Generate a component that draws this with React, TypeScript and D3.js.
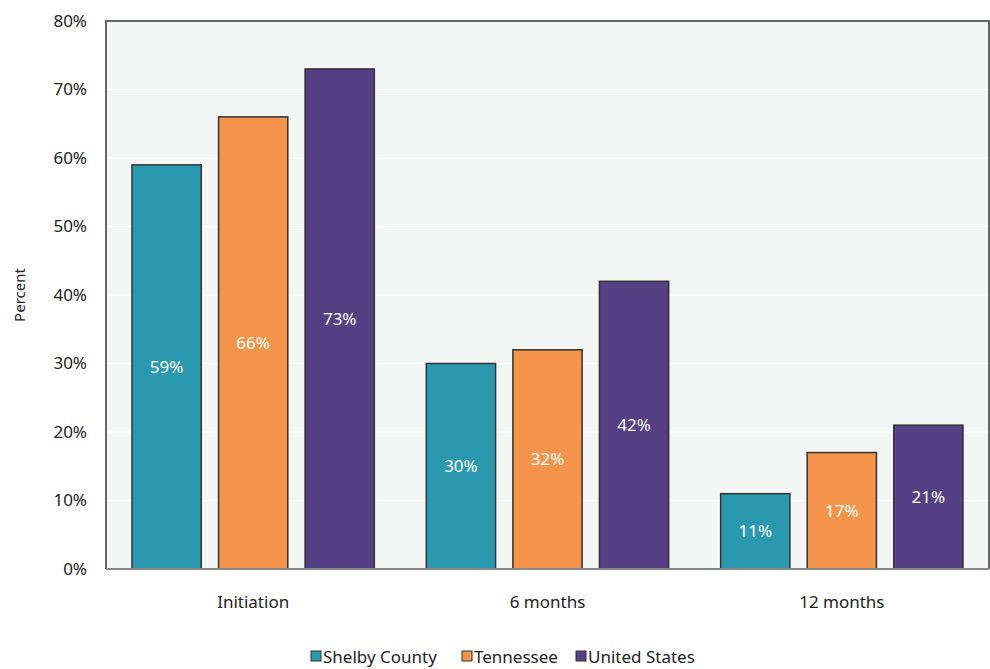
import React from "react";
import * as d3 from "d3";

const categories = ["Initiation", "6 months", "12 months"];
const seriesNames = ["Shelby County", "Tennessee", "United States"];
const shelby = [59, 30, 11];
const tennessee = [66, 32, 17];
const unitedStates = [73, 42, 21];
const yTicks = [0, 10, 20, 30, 40, 50, 60, 70, 80];
const colors = ["#2a98ae", "#f4944a", "#553f85"];

const W = 990, H = 669;
const m = { left: 106, right: 1, top: 21, bottom: 100 };
const FONT = "'Noto Sans', 'Open Sans', sans-serif";

export default function App() {
  const series = [shelby, tennessee, unitedStates];
  const x = d3.scaleBand().domain(categories).range([m.left, W - m.right]).paddingInner(0).paddingOuter(0);
  const x1 = d3.scaleBand().domain(seriesNames).range([26, x.bandwidth() - 26]).paddingInner(0.2).paddingOuter(0);
  const y = d3.scaleLinear().domain([0, 80]).range([H - m.bottom, m.top]);
  const legendX = [311, 462, 576];
  return (
    <svg width={W} height={H} style={{ position: "absolute", left: 0, top: 0 }} fontFamily={FONT}>
      <rect x={m.left} y={m.top} width={W - m.right - m.left} height={y(0) - m.top} fill="#f4f5f5" />
      {yTicks.map(t => (
        <g key={t}>
          {t > 0 && t < 80 && <line x1={m.left} x2={W - m.right} y1={y(t)} y2={y(t)} stroke="#ffffff" strokeWidth={1} />}
          <text x={87} y={y(t)} dy="0.35em" textAnchor="end" fontSize={17} fill="#222">{t}%</text>
        </g>
      ))}
      {categories.map((c, i) => (
        <g key={c}>
          {seriesNames.map((s, j) => {
            const v = series[j][i];
            const bx = (x(c) as number) + (x1(s) as number);
            return (
              <g key={s}>
                <rect x={bx} y={y(v)} width={x1.bandwidth()} height={y(0) - y(v)} fill={colors[j]} stroke="#333" strokeWidth={1.5} />
                <text x={bx + x1.bandwidth() / 2} y={(y(v) + y(0)) / 2} dy="0.35em" textAnchor="middle" fontSize={17} fill="#fff">{v}%</text>
              </g>
            );
          })}
          <text x={(x(c) as number) + x.bandwidth() / 2} y={602} dy="0.35em" textAnchor="middle" fontSize={17} fill="#222">{c}</text>
        </g>
      ))}
      <path d={`M${m.left},${y(0)}V${m.top}H${W - m.right}V${y(0)}`} fill="none" stroke="#666" strokeWidth={2} />
      <line x1={m.left} x2={W - m.right} y1={y(0)} y2={y(0)} stroke="#888" strokeWidth={2} />
      <text transform={`translate(20,${(m.top + y(0)) / 2}) rotate(-90)`} textAnchor="middle" dy="0.35em" fontSize={15} fill="#222">Percent</text>
      {seriesNames.map((s, j) => (
        <g key={s}>
          <rect x={legendX[j]} y={651} width={10} height={10} fill={colors[j]} stroke="#333" strokeWidth={1} />
          <text x={legendX[j] + 12} y={657} dy="0.35em" fontSize={17} fill="#222">{s}</text>
        </g>
      ))}
    </svg>
  );
}
